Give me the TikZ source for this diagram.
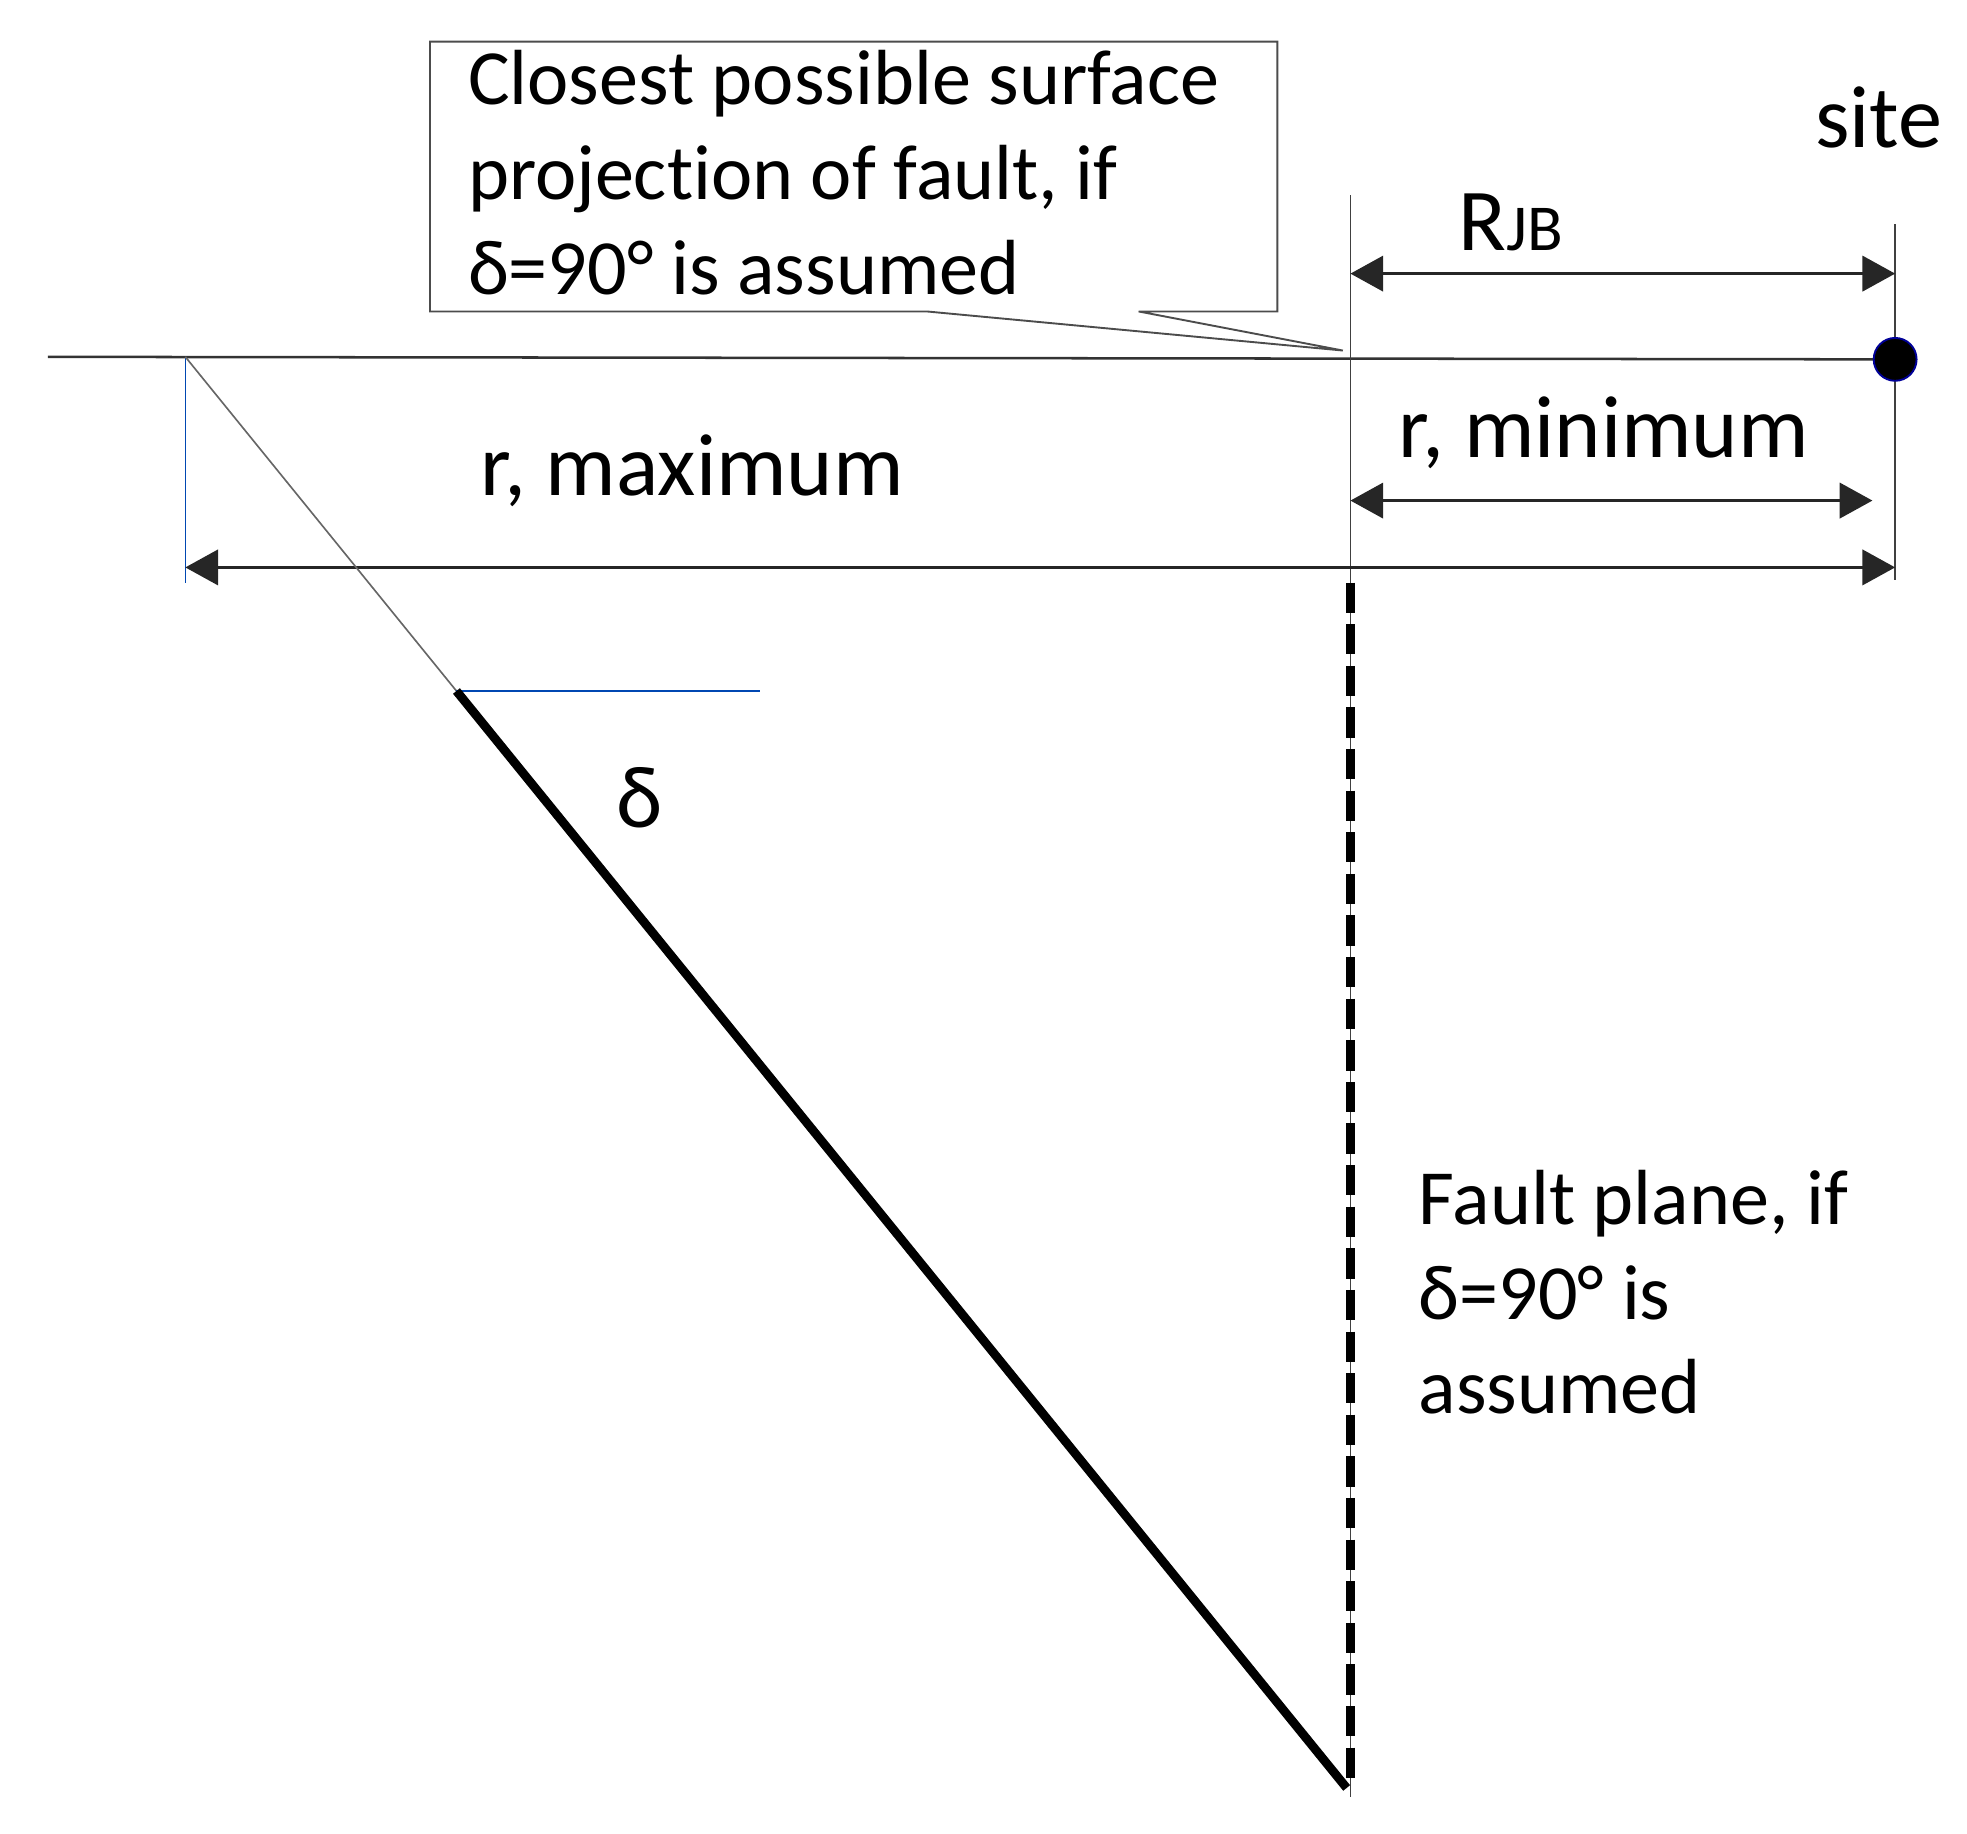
\documentclass[tikz,border=0pt]{standalone}
\usepackage{fontspec}
\setmainfont{Carlito}[Ligatures=NoCommon]
\usetikzlibrary{arrows.meta}
\begin{document}
\begin{tikzpicture}[x=1pt,y=-1pt,
  thin line/.style={line width=1.3pt,black!75},
  dim/.style={line width=2.5pt,black!85,{Triangle[length=26pt,width=28pt]}-{Triangle[length=26pt,width=28pt]}},
  lbl/.style={font=\fontsize{62}{75}\selectfont,inner sep=0pt},
  big/.style={font=\fontsize{70}{75}\selectfont,inner sep=0pt},
  bluel/.style={line width=1.3pt,blue!60!cyan!70!black}]
\useasboundingbox (0,0) rectangle (1560,1454);
% callout
\coordinate (tip) at (1065,278);
\draw[line width=1.5pt,black!70,fill=white] (341,33) -- (1013,33) -- (1013,247) -- (903,247) -- (tip) -- (735,247) -- (341,247) -- cycle;
\node[lbl,anchor=north west,align=left] (call) at (371,40) {Closest possible surface\\projec\kern0pt tion of fault, if\\δ=90° is assumed};
% ground
\coordinate (gl) at (38,283);
\coordinate (site) at (1503,285);
\draw[line width=2pt,black!80] (gl) -- (site);
% verticals
\coordinate (v1t) at (1071,155); \coordinate (v1b) at (1071,1425);
\draw[thin line] (v1t) -- (v1b);
\coordinate (v2t) at (1503,178); \coordinate (v2b) at (1503,460);
\draw[thin line] (v2t) -- (v2b);
\coordinate (bt) at (147,283); \coordinate (bb) at (147,462);
\draw[bluel] (bt) -- (bb);
% dims
\coordinate (a1) at (1071,217); \coordinate (a2) at (1503,217);
\draw[dim] (a1) -- (a2);
\node[big] (rjb) at (1198,176) {R\fontsize{52}{52}\selectfont JB};
\coordinate (b1) at (1071,397); \coordinate (b2) at (1485,397);
\draw[dim] (b1) -- (b2);
\node[big] (rmin) at (1272,343) {r, minimum};
\coordinate (c1) at (147,450); \coordinate (c2) at (1503,450);
\draw[dim] (c1) -- (c2);
\node[big] (rmax) at (549,373) {r, maximum};
% site
\node[circle,fill=black,draw=blue!60!black,line width=1.5pt,minimum size=34pt,inner sep=0pt] (sitedot) at (site) {};
\node[big] (sitel) at (1490,93) {site};
% fault
\coordinate (ft) at (362,548); \coordinate (fb) at (1068,1418);
\draw[line width=1.3pt,black!60] (bt) -- (ft);
\coordinate (bh) at (603,548);
\draw[bluel] (ft) -- (bh);
\draw[line width=7pt,black] (ft) -- (fb);
\coordinate (dt) at (1071,462); \coordinate (db) at (1071,1418);
\draw[line width=7pt,black,dash pattern=on 24pt off 9pt] (dt) -- (db);
\node[big] (delta) at (507,633) {δ};
\node[lbl,anchor=north west,align=left] (fp) at (1125,928) {Fault plane, if\\δ=90° is\\assumed};
\end{tikzpicture}
\end{document}
